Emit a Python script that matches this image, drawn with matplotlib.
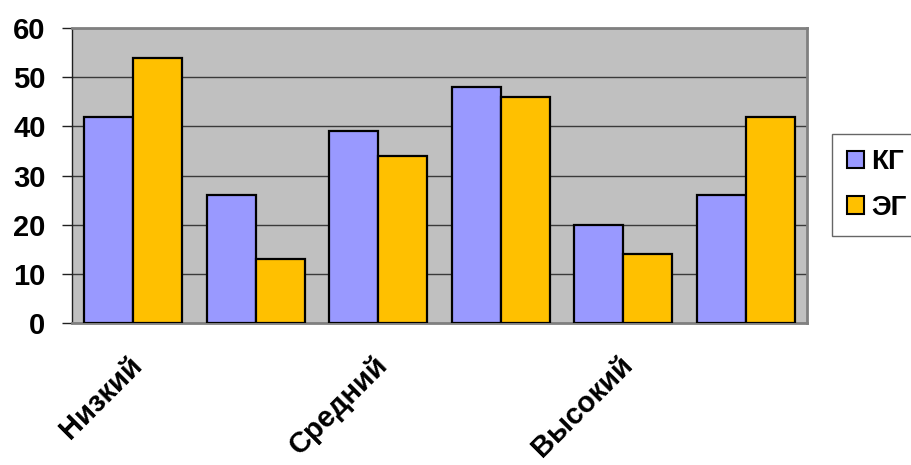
import matplotlib
matplotlib.use("Agg")
import matplotlib.pyplot as plt
import numpy as np

plt.rcParams['font.family'] = ['Liberation Sans', 'DejaVu Sans']

# Data
categories = ["Низкий", "", "Средний", "", "Высокий", ""]
series_names = ["КГ", "ЭГ"]
kg_values = [42, 26, 39, 48, 20, 26]
eg_values = [54, 13, 34, 46, 14, 42]
y_ticks = [0, 10, 20, 30, 40, 50, 60]

colors = ["#9999FF", "#FFC000"]

fig = plt.figure(figsize=(9.11, 4.65), dpi=100)
ax = fig.add_axes([72 / 911, 1 - 323 / 465, (807 - 72) / 911, (323 - 28) / 465])
ax.set_facecolor("#C0C0C0")

x = np.arange(len(categories))
w = 0.4
ax.bar(x - w / 2, kg_values, width=w, color=colors[0], edgecolor="black",
       linewidth=1.6, label=series_names[0], zorder=3)
ax.bar(x + w / 2, eg_values, width=w, color=colors[1], edgecolor="black",
       linewidth=1.6, label=series_names[1], zorder=3)

ax.set_xlim(-0.5, len(categories) - 0.5)
ax.set_ylim(0, 60)
ax.set_yticks(y_ticks)
ax.yaxis.grid(True, color="#3a3a3a", linewidth=1.0, zorder=1)
ax.set_axisbelow(True)

for side in ["top", "right", "bottom"]:
    ax.spines[side].set_color("#808080")
    ax.spines[side].set_linewidth(2)
ax.spines["left"].set_color("#202020")
ax.spines["left"].set_linewidth(1)

ax.tick_params(axis="y", direction="out", length=7, width=1, color="#202020",
               pad=12, labelsize=21)
for lbl in ax.get_yticklabels():
    lbl.set_fontweight("bold")

# Category labels on every other category
lab_pos = [i for i, c in enumerate(categories) if c]
ax.set_xticks([p + 0.12 for p in lab_pos])
ax.set_xticklabels([categories[i] for i in lab_pos], rotation=45, ha="right",
                   va="top", fontsize=21, fontweight="bold")
ax.tick_params(axis="x", length=0, pad=20)

leg = fig.legend(loc="upper left", bbox_to_anchor=(832 / 911, 1 - 134 / 465),
                 borderaxespad=0, frameon=True, fancybox=False,
                 prop={"size": 20, "weight": "bold"}, handlelength=0.6,
                 handleheight=0.6, handletextpad=0.25, labelspacing=0.7,
                 borderpad=0.55)
leg.get_frame().set_edgecolor("#404040")
leg.get_frame().set_linewidth(1)
for h in leg.legend_handles:
    h.set_linewidth(1.5)

fig.savefig("out.png", dpi=100)
